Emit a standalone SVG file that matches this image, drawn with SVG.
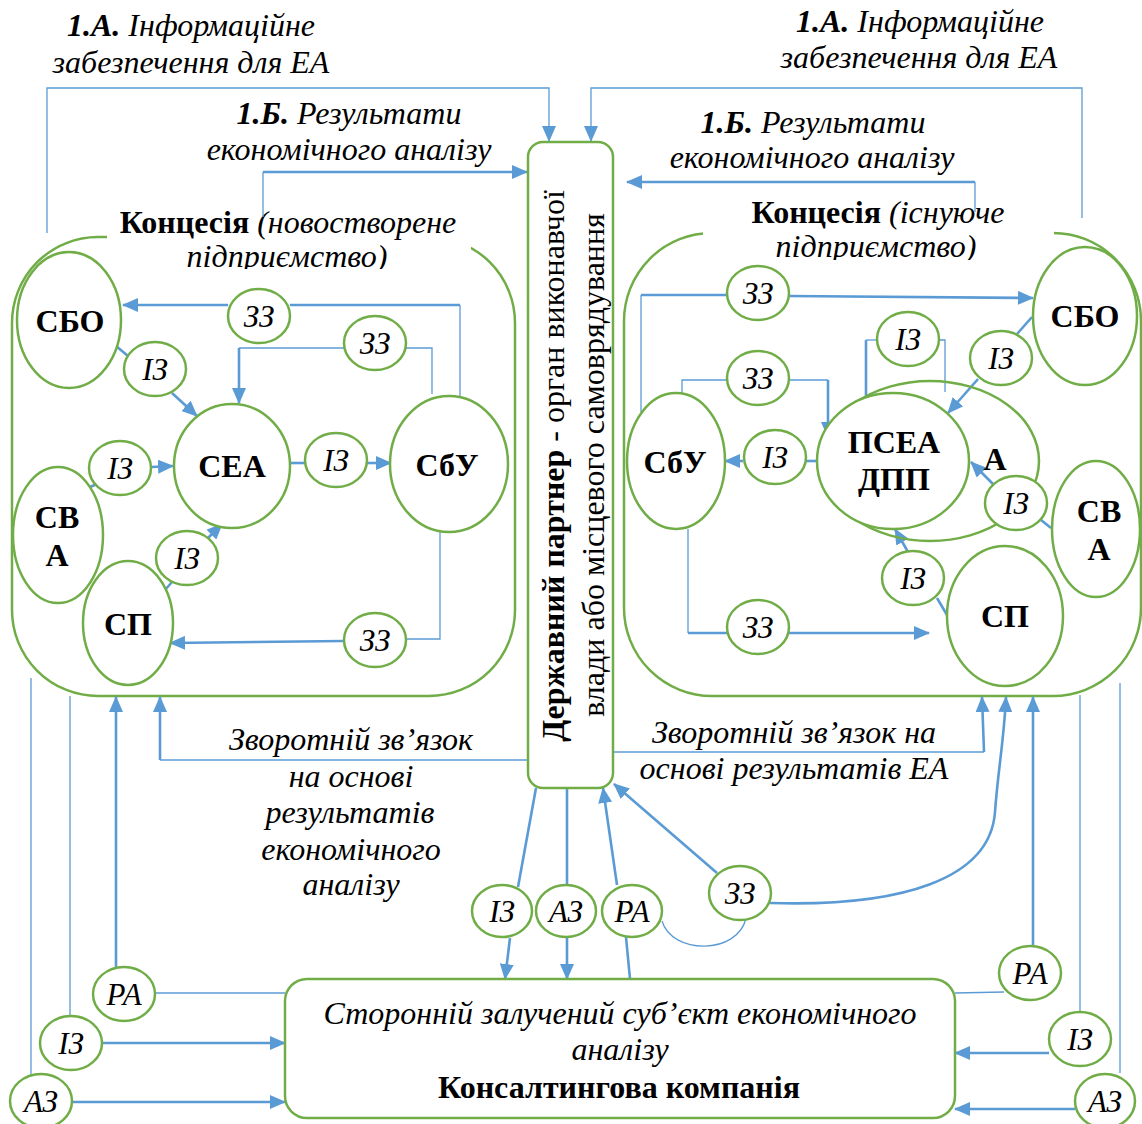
<svg xmlns="http://www.w3.org/2000/svg" width="1142" height="1124" viewBox="0 0 1142 1124">
<style>
.box{fill:#fff;stroke:#70AD47;stroke-width:2.5}
.ring{fill:none;stroke:#70AD47;stroke-width:2.5}
.b{fill:none;stroke:#5B9BD5;stroke-width:2.6}
.t{fill:none;stroke:#5B9BD5;stroke-width:1.3}
text{font-family:'Liberation Serif','Times New Roman',serif;font-size:32px;text-anchor:middle;fill:#000}
.tx{font-style:italic}
.nd{font-weight:bold}
.lb{font-style:italic;font-size:31px}
</style>
<defs>
<marker id="a" markerUnits="userSpaceOnUse" markerWidth="16" markerHeight="14" refX="15" refY="7" orient="auto"><path d="M0,0 L16,7 L0,14 z" fill="#5B9BD5"/></marker>
<clipPath id="cl"><rect x="100" y="180" width="380" height="89"/></clipPath>
<clipPath id="cr"><rect x="690" y="180" width="380" height="80"/></clipPath>
</defs>
<rect width="1142" height="1124" fill="#fff"/>

<g id="concession-left">
<rect class="box" x="12" y="237" width="503" height="459" rx="86"/>
<rect x="107" y="212" width="364" height="57" fill="#fff"/>
<text class="tx" x="288" y="233" clip-path="url(#cl)"><tspan font-weight="bold" font-style="normal">Концесія</tspan> (новостворене</text>
<text class="tx" x="287" y="267" clip-path="url(#cl)">підприємство)</text>
</g>
<g id="concession-right">
<rect class="box" x="624" y="233" width="517" height="463" rx="88"/>
<rect x="703" y="205" width="351" height="55" fill="#fff"/>
<text class="tx" x="878" y="223" clip-path="url(#cr)"><tspan font-weight="bold" font-style="normal">Концесія</tspan> (існуюче</text>
<text class="tx" x="876" y="257" clip-path="url(#cr)">підприємство)</text>
</g>

<g id="captions">
<text class="tx" x="191" y="36"><tspan font-weight="bold">1.А.</tspan> Інформаційне</text>
<text class="tx" x="191" y="73">забезпечення для ЕА</text>
<text class="tx" x="349" y="124"><tspan font-weight="bold">1.Б.</tspan> Результати</text>
<text class="tx" x="349" y="160">економічного аналізу</text>
<text class="tx" x="920" y="32"><tspan font-weight="bold">1.А.</tspan> Інформаційне</text>
<text class="tx" x="919" y="68">забезпечення для ЕА</text>
<text class="tx" x="813" y="133"><tspan font-weight="bold">1.Б.</tspan> Результати</text>
<text class="tx" x="812" y="168">економічного аналізу</text>
<text class="tx" x="351" y="750">Зворотній зв’язок</text>
<text class="tx" x="351" y="787">на основі</text>
<text class="tx" x="350" y="823">результатів</text>
<text class="tx" x="351" y="860">економічного</text>
<text class="tx" x="351" y="895">аналізу</text>
<text class="tx" x="794" y="743">Зворотній зв’язок на</text>
<text class="tx" x="794" y="779">основі результатів ЕА</text>
</g>

<g id="connectors">
<path class="t" d="M47,233 V88 H549 V141" marker-end="url(#a)"/>
<path class="t" d="M263,217 V172"/>
<path class="b" d="M263,172 H527" marker-end="url(#a)"/>
<path class="t" d="M1082,218 V88 H591 V141" marker-end="url(#a)"/>
<path class="t" d="M975,212 V182"/>
<path class="b" d="M975,182 H627" marker-end="url(#a)"/>

<path class="t" d="M460,396 V305"/>
<path class="b" d="M460,305 H290"/>
<path class="b" d="M228,305 H123" marker-end="url(#a)"/>
<path class="t" d="M432,394 V348 H406 M344,348 H239"/>
<path class="b" d="M239,348 V403" marker-end="url(#a)"/>
<path class="b" d="M116,346 L128,356"/>
<path class="b" d="M172,393 L197,416" marker-end="url(#a)"/>
<path class="b" d="M90,487 L97,484"/>
<path class="b" d="M151,467 L173,466" marker-end="url(#a)"/>
<path class="b" d="M165,590 L172,582"/>
<path class="b" d="M207,539 L222,524" marker-end="url(#a)"/>
<path class="b" d="M290,463 H305"/>
<path class="b" d="M367,463 H391" marker-end="url(#a)"/>
<path class="t" d="M440,532 V639 H406"/>
<path class="b" d="M344,641 L170,643" marker-end="url(#a)"/>

<path class="t" d="M641,412 V295"/>
<path class="b" d="M641,295 H727"/>
<path class="b" d="M789,296 L1033,298" marker-end="url(#a)"/>
<path class="t" d="M682,393 V380 H727 M789,380 H828"/>
<path class="b" d="M828,380 V437" marker-end="url(#a)"/>
<path class="t" d="M877,340 H866"/>
<path class="b" d="M866,340 V415" marker-end="url(#a)"/>
<path class="t" d="M939,340 H945 V392"/>
<path class="b" d="M1032,317 L1017,334"/>
<path class="b" d="M978,379 L948,413" marker-end="url(#a)"/>
<path class="b" d="M817,461 H806"/>
<path class="b" d="M743,461 H725" marker-end="url(#a)"/>
<path class="b" d="M1051,528 L1041,520"/>
<path class="b" d="M994,485 L971,462" marker-end="url(#a)"/>
<path class="b" d="M947,615 L937,598"/>
<path class="b" d="M908,552 L895,529" marker-end="url(#a)"/>
<path class="t" d="M688,529 V633"/>
<path class="b" d="M688,633 H727"/>
<path class="b" d="M789,633 H929" marker-end="url(#a)"/>

<path class="t" d="M31,678 V1075"/>
<path class="t" d="M70,696 V1017"/>
<path class="b" d="M116,967 V697" marker-end="url(#a)"/>
<path class="t" d="M527,760 H160"/>
<path class="b" d="M160,760 V697" marker-end="url(#a)"/>
<path class="t" d="M156,993 H285"/>
<path class="b" d="M103,1043 H285" marker-end="url(#a)"/>
<path class="b" d="M73,1102 H285" marker-end="url(#a)"/>
<path class="b" d="M536,788 L518,887"/>
<path class="b" d="M510,938 L505,979" marker-end="url(#a)"/>
<path class="b" d="M567,788 V885"/>
<path class="b" d="M567,937 V979" marker-end="url(#a)"/>
<path class="b" d="M630,979 L626,937"/>
<path class="b" d="M617,885 L603,788" marker-end="url(#a)"/>
<path class="b" d="M717,873 L614,784" marker-end="url(#a)"/>
<path class="t" d="M662,921 C672,955 738,955 746,918"/>
<path class="b" d="M770,903 C900,907 990,880 995,812 C998,770 1004,740 1006,697" marker-end="url(#a)"/>
<path class="t" d="M613,752 H984"/>
<path class="b" d="M984,752 L982,697" marker-end="url(#a)"/>
<path class="b" d="M1033,947 V697" marker-end="url(#a)"/>
<path class="t" d="M1004,992 L955,993"/>
<path class="t" d="M1080,695 V1012"/>
<path class="t" d="M1120,683 V1073"/>
<path class="b" d="M1049,1053 H955" marker-end="url(#a)"/>
<path class="b" d="M1075,1109 H955" marker-end="url(#a)"/>
</g>

<g id="state-partner">
<rect class="box" x="528" y="142" width="85" height="646" rx="15"/>
<text transform="translate(564,466) rotate(-90)"><tspan font-weight="bold">Державний партнер</tspan> - орган виконавчої</text>
<text transform="translate(604,465) rotate(-90)">влади або місцевого самоврядування</text>
</g>
<g id="consulting">
<rect class="box" x="285" y="979" width="670" height="139" rx="22"/>
<text class="tx" x="620" y="1024">Сторонній залучений суб’єкт економічного</text>
<text class="tx" x="620" y="1060">аналізу</text>
<text class="nd" x="619" y="1098">Консалтингова компанія</text>
</g>

<g id="L-SBO"><ellipse class="box" cx="69" cy="320" rx="52" ry="68"/><text class="nd" x="70" y="332">СБО</text></g>
<g id="L-SEA"><ellipse class="box" cx="232" cy="466" rx="58" ry="62"/><text class="nd" x="232" y="477">СЕА</text></g>
<g id="L-SBU"><ellipse class="box" cx="449" cy="464" rx="59" ry="68"/><text class="nd" x="447" y="476">СбУ</text></g>
<g id="L-SVA"><ellipse class="box" cx="58" cy="535" rx="45" ry="68"/><text class="nd" x="57" y="528">СВ</text><text class="nd" x="57" y="566">А</text></g>
<g id="L-SP"><ellipse class="box" cx="128" cy="623" rx="45" ry="62"/><text class="nd" x="128" y="635">СП</text></g>

<g id="R-PSEA">
<ellipse class="ring" cx="930" cy="461" rx="109" ry="80"/>
<text class="nd" x="995" y="470" font-size="28">А</text>
<ellipse class="box" cx="893" cy="461" rx="76" ry="68"/>
<text class="nd" x="894" y="453">ПСЕА</text><text class="nd" x="894" y="490">ДПП</text>
</g>
<g id="R-SBO"><ellipse class="box" cx="1085" cy="316" rx="52" ry="69"/><text class="nd" x="1085" y="327">СБО</text></g>
<g id="R-SBU"><ellipse class="box" cx="676" cy="461" rx="49" ry="68"/><text class="nd" x="675" y="473">СбУ</text></g>
<g id="R-SVA"><ellipse class="box" cx="1096" cy="529" rx="44" ry="68"/><text class="nd" x="1099" y="522">СВ</text><text class="nd" x="1099" y="560">А</text></g>
<g id="R-SP"><ellipse class="box" cx="1005" cy="616" rx="58" ry="70"/><text class="nd" x="1005" y="627">СП</text></g>

<g id="labels">
<g id="lb1"><ellipse class="box" cx="259" cy="316" rx="31" ry="27"/><text class="lb" x="259" y="327">ЗЗ</text></g>
<g id="lb2"><ellipse class="box" cx="375" cy="343" rx="31" ry="27"/><text class="lb" x="375" y="354">ЗЗ</text></g>
<g id="lb3"><ellipse class="box" cx="155" cy="369" rx="31" ry="27"/><text class="lb" x="155" y="380">ІЗ</text></g>
<g id="lb4"><ellipse class="box" cx="120" cy="468" rx="31" ry="27"/><text class="lb" x="120" y="479">ІЗ</text></g>
<g id="lb5"><ellipse class="box" cx="336" cy="460" rx="31" ry="27"/><text class="lb" x="336" y="471">ІЗ</text></g>
<g id="lb6"><ellipse class="box" cx="187" cy="558" rx="31" ry="27"/><text class="lb" x="187" y="569">ІЗ</text></g>
<g id="lb7"><ellipse class="box" cx="375" cy="640" rx="31" ry="27"/><text class="lb" x="375" y="651">ЗЗ</text></g>
<g id="lb8"><ellipse class="box" cx="758" cy="293" rx="31" ry="27"/><text class="lb" x="758" y="304">ЗЗ</text></g>
<g id="lb9"><ellipse class="box" cx="908" cy="339" rx="31" ry="27"/><text class="lb" x="908" y="350">ІЗ</text></g>
<g id="lb10"><ellipse class="box" cx="1001" cy="358" rx="31" ry="27"/><text class="lb" x="1001" y="369">ІЗ</text></g>
<g id="lb11"><ellipse class="box" cx="758" cy="378" rx="31" ry="27"/><text class="lb" x="758" y="389">ЗЗ</text></g>
<g id="lb12"><ellipse class="box" cx="775" cy="457" rx="31" ry="27"/><text class="lb" x="775" y="468">ІЗ</text></g>
<g id="lb13"><ellipse class="box" cx="1016" cy="503" rx="31" ry="27"/><text class="lb" x="1016" y="514">ІЗ</text></g>
<g id="lb14"><ellipse class="box" cx="913" cy="578" rx="31" ry="27"/><text class="lb" x="913" y="589">ІЗ</text></g>
<g id="lb15"><ellipse class="box" cx="758" cy="627" rx="31" ry="27"/><text class="lb" x="758" y="638">ЗЗ</text></g>
<g id="lb16"><ellipse class="box" cx="124" cy="994" rx="31" ry="27"/><text class="lb" x="124" y="1005">РА</text></g>
<g id="lb17"><ellipse class="box" cx="71" cy="1043" rx="31" ry="27"/><text class="lb" x="71" y="1054">ІЗ</text></g>
<g id="lb18"><ellipse class="box" cx="41" cy="1101" rx="31" ry="27"/><text class="lb" x="41" y="1112">АЗ</text></g>
<g id="lb19"><ellipse class="box" cx="502" cy="911" rx="30" ry="26"/><text class="lb" x="502" y="922">ІЗ</text></g>
<g id="lb20"><ellipse class="box" cx="566" cy="911" rx="30" ry="26"/><text class="lb" x="566" y="922">АЗ</text></g>
<g id="lb21"><ellipse class="box" cx="632" cy="911" rx="30" ry="26"/><text class="lb" x="632" y="922">РА</text></g>
<g id="lb22"><ellipse class="box" cx="740" cy="893" rx="31" ry="27"/><text class="lb" x="740" y="904">ЗЗ</text></g>
<g id="lb23"><ellipse class="box" cx="1030" cy="973" rx="31" ry="27"/><text class="lb" x="1030" y="984">РА</text></g>
<g id="lb24"><ellipse class="box" cx="1080" cy="1039" rx="31" ry="27"/><text class="lb" x="1080" y="1050">ІЗ</text></g>
<g id="lb25"><ellipse class="box" cx="1105" cy="1101" rx="30" ry="27"/><text class="lb" x="1105" y="1112">АЗ</text></g>
</g>
</svg>
